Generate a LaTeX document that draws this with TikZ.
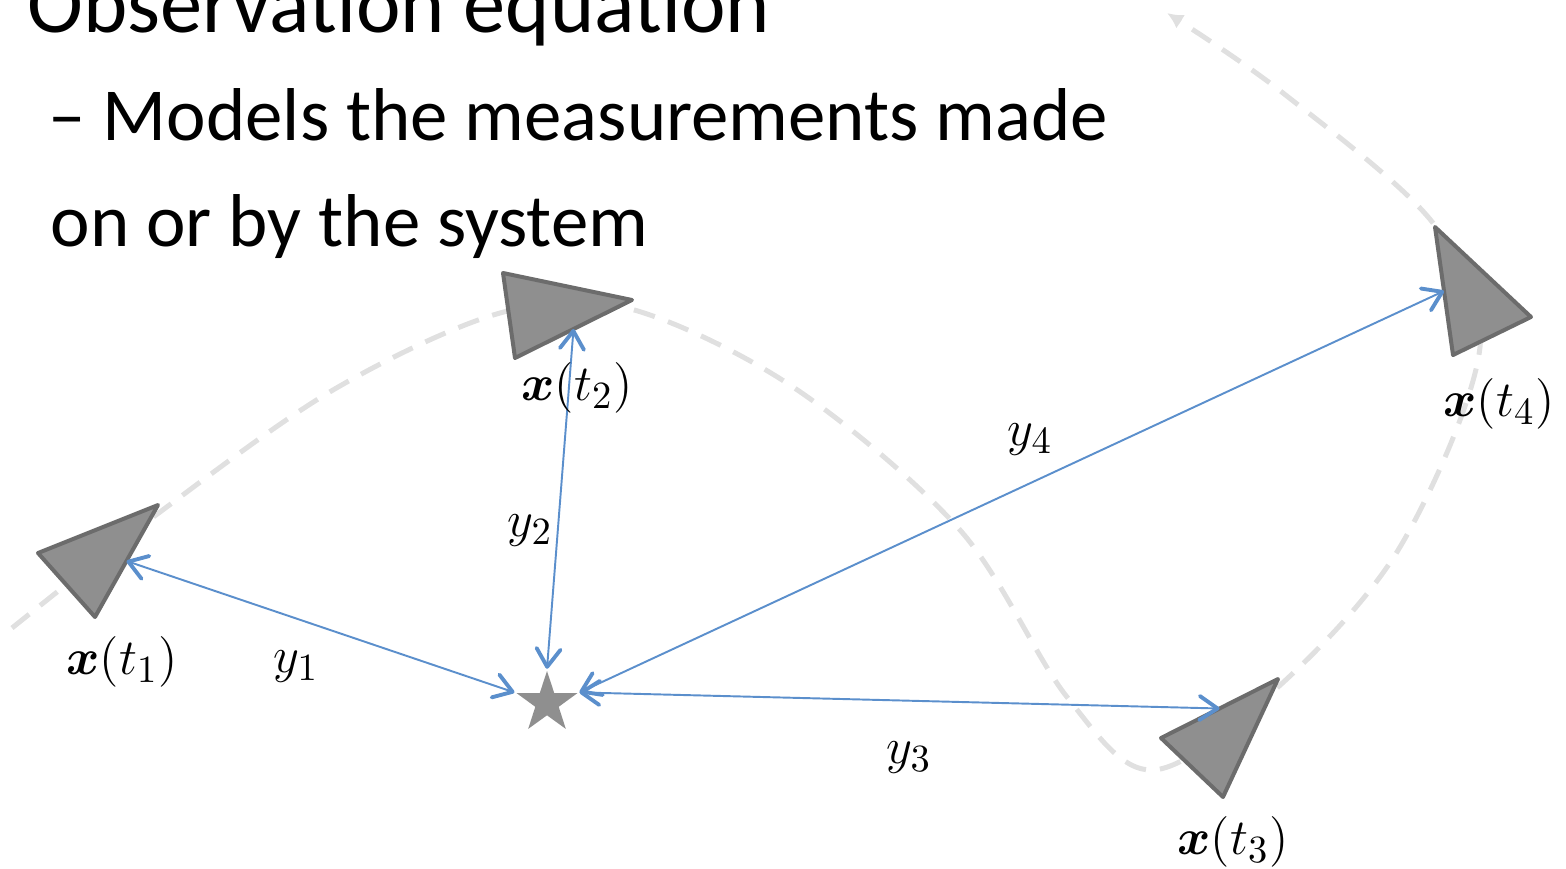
\documentclass[tikz,border=0pt]{standalone}
\usepackage{amsmath,bm}
\usepackage{fontspec}
\setmainfont{Carlito}
\usepackage{tikz}
\usetikzlibrary{arrows.meta,shapes.geometric,calc}
\definecolor{measblue}{RGB}{91,143,204}
\definecolor{sensfill}{RGB}{143,143,143}
\definecolor{sensedge}{RGB}{108,108,108}
\definecolor{trackgray}{RGB}{224,224,224}
\tikzset{
  heading/.style={anchor=base west, inner sep=0pt, font=\fontsize{24}{29}\selectfont},
  bullet/.style={anchor=base west, inner sep=0pt, font=\fontsize{21.3}{26}\selectfont},
  sensor/.style={draw=sensedge, fill=sensfill, line width=0.4mm, line join=round},
  target/.style={star, star points=5, star point ratio=2.6, minimum size=6.4mm, inner sep=0pt, fill=sensfill},
  measure/.style={{Straight Barb[length=1.8mm, width=2.4mm, line width=1.1pt, round]}-{Straight Barb[length=1.8mm, width=2.4mm, line width=1.1pt, round]}, measblue, line width=0.55pt},
  track/.style={trackgray, line width=0.5mm, dash pattern=on 2.2mm off 1.4mm, -{Latex[length=1.6mm, width=1.6mm]}},
  lbl/.style={inner sep=0pt, font=\fontsize{15.5}{18}\selectfont}
}

\begin{document}
\begin{tikzpicture}[x=0.1mm, y=-0.1mm]
  \useasboundingbox (0,0) rectangle (1566,868);
  \node[heading] (title) at (27,32) {Observation equation};
  \node[bullet] (line1) at (48,140) {– Models the measurements made};
  \node[bullet] (line2) at (50,246) {on or by the system};
  \draw[track] plot[smooth, tension=0.55] coordinates {(12,628) (160,512) (333,390) (500,313) (627,308) (793,387) (960,530) (1067,697) (1153,770) (1277,688) (1400,547) (1480,347) (1433,223) (1283,93) (1167,13)};
  \coordinate (a1) at (38,553);   \coordinate (b1) at (158,505);  \coordinate (c1) at (95,617);
  \coordinate (a2) at (503,273);  \coordinate (b2) at (632,300);  \coordinate (c2) at (515,358);
  \coordinate (a3) at (1223,797); \coordinate (b3) at (1161,738); \coordinate (c3) at (1278,679);
  \coordinate (a4) at (1531,317); \coordinate (b4) at (1435,227); \coordinate (c4) at (1453,355);
  \foreach \i in {1,...,4} {
    \draw[sensor] (a\i) -- (b\i) -- (c\i) -- cycle;
    \coordinate (m\i) at ($(b\i)!0.5!(c\i)$);
  }
  \node[target] (obj) at (547,703) {};
  \draw[measure] (obj.outer point 2) -- (m1);
  \draw[measure] (obj.outer point 1) -- (m2);
  \draw[measure] (obj.outer point 5) -- (m3);
  \draw[measure] (obj.outer point 5) -- (m4);
  \node[lbl] (x1) at (122,662) {$\bm{x}(t_1)$};
  \node[lbl] (x2) at (577,388) {$\bm{x}(t_2)$};
  \node[lbl] (x3) at (1233,842) {$\bm{x}(t_3)$};
  \node[lbl] (x4) at (1499,404) {$\bm{x}(t_4)$};
  \node[lbl] (y1) at (296,667) {$y_1$};
  \node[lbl] (y2) at (530,531) {$y_2$};
  \node[lbl] (y3) at (909,758) {$y_3$};
  \node[lbl] (y4) at (1030,440) {$y_4$};
\end{tikzpicture}
\end{document}
